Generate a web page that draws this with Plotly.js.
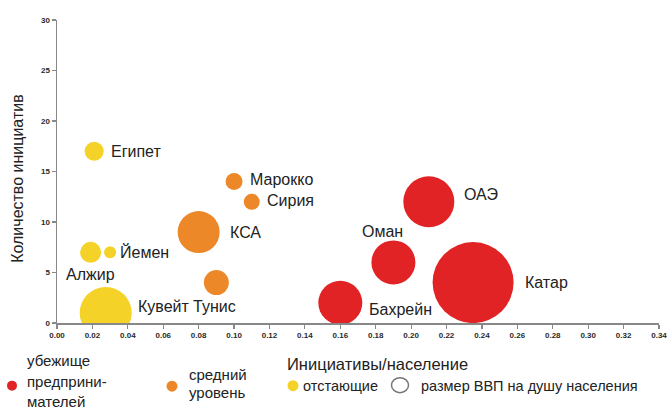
<!DOCTYPE html>
<html>
<head>
<meta charset="utf-8">
<script src="https://cdn.plot.ly/plotly-3.0.1.min.js"></script>
<style>html,body{margin:0;padding:0;background:#fff;}#chart{width:668px;height:409px;}</style>
</head>
<body>
<div id="chart"></div>
<script>
// ---- data ----
var countries = ['Египет','Марокко','Сирия','КСА','Йемен','Алжир','Кувейт','Тунис','ОАЭ','Оман','Катар','Бахрейн'];
var initPerPop = [0.021, 0.100, 0.110, 0.080, 0.030, 0.019, 0.0275, 0.090, 0.210, 0.190, 0.235, 0.160];
var initCount  = [17, 14, 12, 9, 7, 7, 1, 4, 12, 6, 4, 2];
var gdpPerCapita = [19, 17, 16, 42, 12, 21, 52, 25, 51, 44, 81, 44];
var group = ['low','mid','mid','mid','low','low','low','mid','top','top','top','top'];
var groupNames = {top: 'убежище предприни-мателей', mid: 'средний уровень', low: 'отстающие'};
var xTicks = [0,0.02,0.04,0.06,0.08,0.10,0.12,0.14,0.16,0.18,0.20,0.22,0.24,0.26,0.28,0.30,0.32,0.34];
var yTicks = [0,5,10,15,20,25,30];

// ---- styling ----
var colors = {top: 'rgb(226,35,38)', mid: 'rgb(236,136,40)', low: 'rgb(245,210,40)'};
var labelShift = {
  'Египет':[15,0],'Марокко':[14,2],'Сирия':[13,1],'КСА':[29,0],'Йемен':[8,0],'Алжир':[-27,-22],
  'Кувейт':[30,6],'Тунис':[-25,-24],'ОАЭ':[33,7],'Оман':[-33,31],'Катар':[50,0],'Бахрейн':[27,-7]
};
var FONT = '"Liberation Sans", Arial, sans-serif';

var traces = ['top','mid','low'].map(function(g){
  var xs=[], ys=[], ss=[], tt=[];
  for (var i=0;i<countries.length;i++) if (group[i]===g){xs.push(initPerPop[i]);ys.push(initCount[i]);ss.push(gdpPerCapita[i]);tt.push(countries[i]);}
  return {type:'scatter', mode:'markers', name:groupNames[g], x:xs, y:ys, text:tt,
    marker:{size:ss, sizemode:'diameter', sizeref:1, color:colors[g], line:{width:0}, opacity:1},
    cliponaxis:true, hoverinfo:'text+x+y'};
});

var L=57, R=659, T=20, B=323.3;
function px(x){return (x-L)/(R-L);}
function py(y){return (B-y)/(B-T);}

var annotations = countries.map(function(c,i){
  return {x:initPerPop[i], y:initCount[i], xref:'x', yref:'y', text:c, showarrow:false,
    xanchor:'left', yanchor:'middle', xshift:labelShift[c][0], yshift:labelShift[c][1],
    font:{family:FONT, size:16, color:'#222'}};
});
function txt(t,x,y,size,extra){
  var a={text:t, x:px(x), y:py(y), xref:'paper', yref:'paper', showarrow:false, xanchor:'left', yanchor:'middle',
    font:{family:FONT, size:size, color:'#222'}};
  if(extra) for(var k in extra) a[k]=extra[k];
  return a;
}
annotations.push(txt('Количество инициатив', 18, 179, 16, {xanchor:'center', textangle:-90}));
annotations.push(txt('Инициативы/население', 285, 364, 16.5));
annotations.push(txt('убежище', 25, 361, 15));
annotations.push(txt('предприни-', 25, 382, 15));
annotations.push(txt('мателей', 25, 402, 15));
annotations.push(txt('средний', 187, 375, 15));
annotations.push(txt('уровень', 187, 393, 15));
annotations.push(txt('отстающие', 301, 386, 14.5));
annotations.push(txt('размер ВВП на душу населения', 419, 386, 14.5));

function dot(cx,cy,r,fill,line){
  return {type:'circle', xref:'paper', yref:'paper', x0:px(cx-r), x1:px(cx+r), y0:py(cy+r), y1:py(cy-r),
    fillcolor:fill, line:line||{width:0}};
}
var shapes = [
  dot(12,386,5,colors.top), dot(172,386.5,5.5,colors.mid), dot(293,386,5.5,colors.low),
  {type:'circle', xref:'paper', yref:'paper', x0:px(391.5), x1:px(408.5), y0:py(393), y1:py(378),
   fillcolor:'rgba(0,0,0,0)', line:{color:'#777', width:1.5}}
];

var layout = {
  width:668, height:409, margin:{l:L, r:668-R, t:T, b:409-B}, paper_bgcolor:'#fff', plot_bgcolor:'#fff',
  showlegend:false,
  xaxis:{range:[0,0.34], tickvals:xTicks, ticktext:xTicks.map(function(v){return v.toFixed(2);}),
    showgrid:false, zeroline:false, showline:true, linecolor:'#888', linewidth:1.5,
    ticks:'outside', ticklen:4, tickcolor:'#888', tickwidth:1.2,
    tickfont:{family:FONT, size:8, color:'#2a2a2a', weight:'bold'}, fixedrange:true},
  yaxis:{range:[0,30], tickvals:yTicks, showgrid:false, zeroline:false, showline:true, linecolor:'#888', linewidth:1.5,
    ticks:'outside', ticklen:4, tickcolor:'#888', tickwidth:1.2,
    tickfont:{family:FONT, size:8, color:'#2a2a2a', weight:'bold'}, fixedrange:true},
  annotations:annotations, shapes:shapes
};
Plotly.newPlot('chart', traces, layout, {displayModeBar:false, staticPlot:true});
</script>
</body>
</html>
